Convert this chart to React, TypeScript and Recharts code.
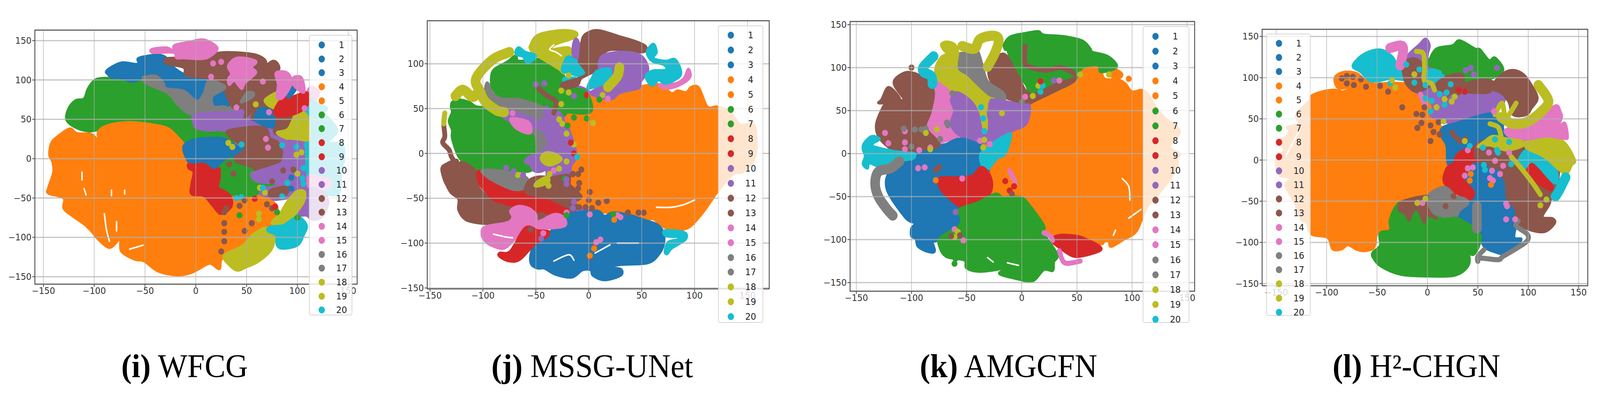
import { CartesianGrid, Legend, ReferenceArea, Scatter, ScatterChart, XAxis, YAxis } from "recharts";

type Pt = [number, number];
type Layer = [number, Pt[]];

// class number -> tab10 colour (0 is a white gap between clusters)
const classColors: Record<number, string> = {
  0: "#ffffff", 1: "#1f77b4", 2: "#1f77b4", 3: "#1f77b4", 4: "#ff7f0e", 5: "#ff7f0e", 6: "#2ca02c", 7: "#2ca02c",
  8: "#d62728", 9: "#d62728", 10: "#9467bd", 11: "#9467bd", 12: "#8c564b", 13: "#8c564b", 14: "#e377c2",
  15: "#e377c2", 16: "#7f7f7f", 17: "#7f7f7f", 18: "#bcbd22", 19: "#bcbd22", 20: "#17becf",
};
const legendLabels = ["1","2","3","4","5","6","7","8","9","10","11","12","13","14","15","16","17","18","19","20"];
const tickValues = [-150, -100, -50, 0, 50, 100, 150];
const jYTicks = [-150, -100, -50, 0, 50, 100];

// painted first, so they only show where the traced clusters leave a hole
const wfcgBase: Layer[] = [
  [10, [[30,60],[108,60],[108,-40],[30,-40]]],
];
const unetBase: Layer[] = [
  [10, [[-35,60],[6,60],[6,-58],[-35,-60]]],
  [12, [[-60,-40],[-15,-25],[-12,-62],[-55,-72]]],
];
const amgBase: Layer[] = [
  [4, [[-32,30],[5,42],[5,-55],[-32,-50]]],
  [10, [[-42,60],[-22,60],[-22,20],[-42,20]]],
  [1, [[-75,8],[-38,8],[-38,-25],[-75,-25]]],
];
const chgnBase: Layer[] = [
  [12, [[0,100],[65,95],[65,55],[0,50]]],
  [1, [[20,30],[80,30],[80,-30],[20,-30]]],
  [12, [[75,30],[125,30],[125,-42],[85,-42]]],
  [10, [[-10,90],[15,90],[15,55],[-10,55]]],
];

const wfcgAreas: Layer[] = [
  [6, [[-127,49],[-125,64],[-118,74],[-110,76],[-106,89],[-100,99],[-93,102],[-75,102],[-62,98],[-52,99],[-32,84],[-22,73],[-7,59],[0,56],[-2,43],[16,35],[33,31],[38,26],[30,10],[-10,10],[-90,20],[-92,36],[-105,35],[-117,39]]],
  [4, [[-144,5],[-142,20],[-135,29],[-124,38],[-117,32],[-103,31],[-96,23],[-96,34],[-87,42],[-66,46],[-42,43],[-27,38],[-17,26],[-10,15],[-8,0],[20,-30],[73,-53],[80,-70],[74,-85],[59,-95],[49,-105],[33,-121],[25,-128],[23,-140],[14,-133],[3,-140],[-5,-145],[-18,-148],[-37,-143],[-51,-130],[-60,-128],[-73,-118],[-75,-103],[-85,-113],[-97,-101],[-102,-93],[-110,-83],[-121,-73],[-130,-63],[-130,-50],[-145,-44],[-145,-37],[-140,-17],[-141,-4]]],
  [1, [[-88,111],[-82,117],[-72,122],[-57,120],[-57,127],[-49,130],[-37,132],[-29,128],[-22,116],[-9,106],[11,103],[8,89],[1,73],[-12,83],[-27,89],[-42,104],[-52,103],[-62,98],[-75,103],[-82,103],[-87,108]]],
  [1, [[17,79],[28,88],[36,74],[31,66],[21,64],[16,72]]],
  [12, [[-29,127],[-17,128],[11,128],[18,133],[28,135],[48,134],[61,131],[69,123],[64,113],[76,124],[82,116],[79,103],[80,83],[79,59],[81,50],[66,50],[55,50],[58,63],[48,53],[38,61],[28,88],[26,96],[13,99],[11,103],[-9,106],[-12,116],[-29,121]]],
  [16, [[-52,103],[-49,104],[-39,105],[-32,96],[-29,89],[-12,86],[1,73],[8,83],[13,99],[26,94],[28,89],[16,79],[18,66],[28,66],[37,61],[36,56],[-2,56],[-17,68],[-27,83],[-49,96]]],
  [10, [[0,56],[37,59],[46,61],[47,48],[66,44],[73,38],[77,26],[86,23],[70,20],[33,38],[16,36],[1,39],[-2,46]]],
  [1, [[-12,15],[-2,24],[16,26],[28,25],[41,15],[48,11],[35,0],[28,-2],[23,-12],[17,-15],[8,-7],[-2,-8],[-8,-2]]],
  [12, [[33,36],[66,40],[73,26],[81,20],[86,0],[80,-7],[56,-17],[39,-7],[37,0],[48,11],[41,21],[33,28]]],
  [6, [[35,0],[23,-12],[23,-27],[22,-37],[31,-45],[58,-46],[63,-35],[74,-33],[84,-29],[81,-22],[61,-29],[56,-15],[39,-7]]],
  [8, [[-7,-7],[-2,-8],[8,-7],[17,-15],[23,-13],[23,-27],[22,-37],[33,-46],[35,-60],[25,-70],[17,-60],[8,-47],[-4,-45],[-4,-32],[-2,-17],[-7,-12]]],
  [10, [[56,-19],[76,-10],[86,-2],[89,28],[101,23],[109,20],[111,0],[111,-35],[129,-53],[126,-63],[116,-77],[109,-72],[100,-71],[106,-57],[96,-40],[84,-32],[61,-29]]],
  [14, [[111,88],[115,91],[121,84],[118,76],[110,76]]],
  [20, [[110,69],[121,69],[129,64],[126,58],[133,48],[139,35],[131,21],[144,18],[146,0],[143,-14],[141,-43],[129,-45],[111,-35]]],
  [14, [[111,-22],[122,-24],[133,-28],[130,-37],[118,-40],[111,-36]]],
  [10, [[111,-39],[126,-44],[130,-57],[123,-75],[111,-73]]],
  [18, [[28,-123],[46,-111],[56,-97],[69,-88],[77,-98],[74,-116],[61,-131],[49,-138],[41,-142],[33,-135]]],
  [18, [[75,-82],[83,-70],[90,-55],[99,-42],[107,-42],[106,-55],[98,-70],[91,-82]]],
  [20, [[71,-92],[73,-87],[86,-85],[92,-80],[101,-74],[109,-85],[106,-97],[100,-110],[86,-114],[80,-110],[79,-97]]],
  [12, [[79,58],[96,58],[94,44],[90,35],[81,31],[77,36]]],
  [1, [[59,56],[64,64],[74,61],[77,56],[77,44],[74,40],[59,48]]],
  [18, [[80,33],[91,38],[99,59],[106,59],[111,48],[111,25],[101,25],[91,26],[89,26]]],
  [18, [[69,76],[81,84],[86,74],[82,63],[74,66],[69,71]]],
  [8, [[77,59],[86,78],[96,79],[109,84],[111,71],[101,59],[84,54]]],
  [14, [[-43,139],[-29,141],[-22,137],[-21,144],[-7,148],[8,151],[21,141],[15,131],[6,127],[-12,128],[-19,128],[-22,135],[-42,135]]],
  [14, [[41,128],[59,124],[55,116],[59,109],[48,96],[45,89],[38,99],[33,94],[32,101],[35,108],[32,118]]],
  [1, [[89,94],[99,91],[91,78]]],
  [14, [[79,109],[90,109],[94,96],[86,78],[80,78],[81,94]]],
  [14, [[96,103],[103,104],[106,96],[106,84],[96,94]]],
  [16, [[45,74],[51,84],[57,83],[55,78],[46,72]]],
  [12, [[74,-40],[90,-36],[88,-46],[74,-48]]],
];
const wfcgBands: Layer[] = [];
const wfcgThinBands: Layer[] = [
  [0, [[-112,-17],[-112,-27]]],
  [0, [[-110,-38],[-108,-46]]],
  [0, [[-83,-40],[-83,-47]]],
  [0, [[-70,-40],[-70,-45]]],
  [0, [[-90,-70],[-88,-90],[-85,-105]]],
  [0, [[-78,-80],[-78,-92]]],
  [0, [[-65,-115],[-52,-110]]],
];
const wfcgDots: Layer[] = [
  [14, [[17,121],[25,123],[15,104],[40,65],[66,98],[69,25],[71,14],[72,59],[107,64]]],
  [18, [[59,69],[32,20],[36,15],[99,5],[104,8],[68,-43],[63,-37],[100,-19],[62,-77],[62,-70]]],
  [20, [[45,18],[85,17],[99,15],[109,17],[40,-50],[45,-49],[85,-48],[66,-37],[90,-31],[106,-32],[105,-25],[106,-12]]],
  [12, [[28,-93],[28,-105],[25,-118],[48,-92],[55,-82],[28,-82],[28,-68],[30,-63],[43,-60],[48,-53],[70,-58],[75,-63],[33,-7],[37,-19],[75,-29],[86,-15],[96,-14]]],
  [8, [[58,-51],[78,-61]]],
  [6, [[43,-72],[80,-68],[100,-75]]],
  [1, [[94,-24],[94,-38]]],
  [10, [[56,-20]]],
];

const unetAreas: Layer[] = [
  [4, [[1,65],[5,67],[13,61],[30,68],[44,73],[66,77],[78,67],[84,70],[92,68],[97,74],[104,73],[112,52],[121,52],[133,47],[143,32],[155,33],[158,20],[157,-4],[146,-20],[136,-23],[122,-42],[116,-52],[107,-67],[95,-82],[83,-85],[71,-82],[61,-73],[54,-74],[39,-69],[22,-66],[8,-64],[-14,-50],[-14,-9],[-10,3],[-16,26],[-21,41],[-2,55]]],
  [6, [[-130,51],[-129,57],[-123,60],[-113,57],[-106,52],[-95,51],[-86,44],[-74,36],[-55,26],[-50,0],[-48,-12],[-57,-20],[-72,-19],[-98,-18],[-106,-20],[-118,-10],[-124,-1],[-129,17],[-129,26],[-132,36],[-129,46]]],
  [6, [[-92,86],[-89,94],[-77,102],[-69,109],[-66,103],[-48,105],[-38,100],[-26,90],[-23,84],[-23,73],[-4,70],[3,52],[-2,45],[-23,47],[-33,51],[-43,52],[-72,60],[-84,64],[-91,73]]],
  [16, [[-97,77],[-95,78],[-91,67],[-82,61],[-65,60],[-43,51],[-42,42],[-45,36],[-60,42],[-79,48],[-96,57],[-98,67]]],
  [16, [[-54,28],[-46,28],[-38,12],[-40,0],[-48,0],[-50,19]]],
  [10, [[-85,45],[-79,48],[-60,42],[-45,36],[-40,52],[-36,41],[-23,29],[-19,19],[-14,0],[-14,-9],[-23,-16],[-31,-12],[-45,-20],[-52,-19],[-55,-13],[-60,-9],[-55,-3],[-46,0],[-38,12],[-46,28],[-54,28],[-55,26],[-74,36]]],
  [14, [[-73,39],[-57,35],[-55,23],[-64,25],[-71,31]]],
  [18, [[-55,121],[-48,132],[-28,137],[-14,136],[-11,132],[-16,128],[-31,122],[-36,116],[-19,118],[-17,109],[-23,106],[-23,90],[-28,94],[-36,100],[-50,110],[-55,116]]],
  [20, [[-66,118],[-60,113],[-51,110],[-51,106],[-58,101],[-62,108],[-68,110],[-69,114]]],
  [20, [[-19,108],[-9,102],[-2,90],[-4,86],[-9,86],[-19,90],[-25,92],[-23,102]]],
  [20, [[-23,84],[-13,84],[-14,79],[-23,79]]],
  [10, [[-13,127],[-10,125],[-6,108],[-14,108],[-15,118]]],
  [12, [[0,135],[10,137],[30,130],[44,125],[54,119],[50,113],[25,116],[15,113],[10,103],[10,94],[3,90],[-7,84],[-11,76],[-23,73],[-25,78],[-9,84],[-2,90],[-9,102],[-8,108],[-6,128]]],
  [10, [[10,103],[15,110],[32,113],[49,109],[56,94],[49,80],[47,73],[30,68],[22,61],[13,62],[2,67],[8,74],[10,90]]],
  [20, [[8,92],[20,94],[18,81],[2,73],[-1,74],[3,84]]],
  [14, [[94,94],[96,86],[90,79],[78,73],[68,74],[68,77],[82,78],[90,84]]],
  [20, [[61,122],[64,113],[61,106],[73,103],[81,105],[86,96],[86,86],[73,78],[66,82],[62,77],[58,77],[54,86],[60,92],[73,93],[71,99],[60,103],[55,113]]],
  [12, [[-139,-17],[-135,-12],[-124,-8],[-128,-28],[-121,-10],[-105,-22],[-104,-38],[-90,-52],[-72,-58],[-57,-60],[-50,-65],[-72,-76],[-87,-78],[-101,-78],[-116,-74],[-123,-63],[-123,-51],[-130,-44],[-134,-36],[-137,-28]]],
  [8, [[-105,-22],[-101,-20],[-94,-29],[-72,-39],[-62,-41],[-38,-50],[-21,-58],[-23,-66],[-36,-67],[-52,-63],[-72,-58],[-89,-52],[-96,-44],[-103,-34]]],
  [16, [[-101,-19],[-87,-19],[-72,-22],[-58,-28],[-62,-39],[-72,-40],[-86,-33],[-96,-26]]],
  [12, [[-60,-39],[-55,-29],[-43,-26],[-24,-31],[-9,-45],[-8,-50],[-16,-55],[-19,-60],[-28,-55],[-38,-50],[-57,-45]]],
  [18, [[-45,-4],[-40,1],[-31,-1],[-26,-7],[-36,-13],[-43,-10]]],
  [18, [[-48,-31],[-39,-26],[-38,-32],[-46,-36],[-51,-36]]],
  [1, [[-44,-96],[-33,-84],[-21,-76],[-19,-68],[7,-64],[15,-70],[23,-66],[39,-69],[54,-75],[64,-79],[70,-87],[71,-99],[67,-111],[56,-122],[30,-124],[18,-127],[30,-129],[30,-136],[15,-141],[4,-136],[2,-130],[-6,-130],[-16,-138],[-31,-135],[-42,-128],[-48,-128],[-54,-124],[-55,-114],[-51,-101]]],
  [14, [[-101,-90],[-98,-82],[-77,-77],[-72,-71],[-74,-64],[-67,-59],[-57,-61],[-50,-68],[-48,-76],[-33,-68],[-24,-71],[-22,-80],[-33,-83],[-48,-83],[-60,-82],[-72,-98],[-81,-106],[-93,-102],[-99,-96]]],
  [8, [[-84,-111],[-74,-109],[-60,-83],[-48,-86],[-38,-87],[-40,-93],[-51,-101],[-65,-118],[-75,-120],[-84,-115]]],
  [20, [[72,-86],[90,-88],[92,-95],[85,-101],[78,-106],[74,-112],[72,-109],[75,-99],[84,-96],[85,-93],[73,-92]]],
];
const unetBands: Layer[] = [
  [18, [[-75,113],[-89,106],[-101,93],[-107,81],[-103,70],[-98,58],[-87,48],[-80,46]]],
  [18, [[-126,64],[-119,71],[-110,63],[-105,68]]],
  [18, [[29,96],[27,86],[18,74]]],
];
const unetThinBands: Layer[] = [
  [12, [[-136,45],[-137,33],[-136,19],[-138,12],[-132,4],[-130,-3],[-127,-9]]],
  [18, [[-136,45],[-137,33]]],
  [12, [[-49,74],[-39,64],[-31,58],[-33,45]]],
  [0, [[64,-60],[78,-60],[90,-57],[100,-52]]],
  [0, [[-33,121],[-37,116],[-31,113],[-26,109]]],
  [0, [[20,-102],[6,-111]]],
  [0, [[-33,-120],[-19,-113],[-14,-119]]],
  [0, [[27,-100],[47,-100]]],
  [0, [[-90,-90],[-79,-93],[-72,-94]]],
];
const unetDots: Layer[] = [
  [12, [[-7,-18],[-15,-23],[-10,-23],[-9,-33],[-10,-39],[1,-43],[0,-52],[9,-55],[17,-53],[-9,-60],[-3,-60],[3,-61],[37,-66],[47,-66],[52,-66],[-44,-69],[-55,-85],[1,-116],[6,-101]]],
  [14, [[-33,-19],[-21,-66],[1,-68],[27,-69],[30,-71],[-43,-89],[7,-99],[11,-96],[18,61],[-72,45]]],
  [18, [[-26,70],[-19,68],[13,65],[-26,55],[-28,38],[-25,33],[-21,22],[-14,10],[4,34],[-81,47],[-19,87],[-67,-24],[-28,-17],[-21,-9],[-37,-23],[-38,-36]]],
  [6, [[-14,40],[-2,39],[-6,47],[-20,31],[-16,60],[-23,45],[10,60],[-23,-28],[-21,-69],[23,-68]]],
  [10, [[-50,77],[-42,78],[-14,64],[-40,49],[-78,-16],[-71,-20],[-62,-24],[-21,-29],[-21,-34],[-14,-54],[-15,-61],[-45,-95]]],
  [8, [[-2,65],[-17,12],[-14,0]]],
  [4, [[24,-74],[5,-106],[1,-114]]],
  [20, [[-11,-4]]],
];

const amgAreas: Layer[] = [
  [4, [[8,57],[32,72],[49,86],[53,94],[58,100],[70,100],[75,87],[87,86],[94,81],[100,72],[111,73],[120,57],[129,42],[143,26],[134,8],[143,0],[141,-5],[141,-14],[134,-30],[125,-45],[113,-63],[104,-90],[92,-100],[81,-108],[79,-102],[75,-102],[71,-105],[55,-95],[32,-95],[20,-90],[19,-77],[8,-60],[-1,-54],[-29,-48],[-30,-20],[-22,-3],[-15,0],[-8,27],[1,35],[6,53]]],
  [4, [[78,94],[84,98],[91,92],[86,87]]],
  [6, [[-16,127],[-10,136],[4,140],[15,142],[20,138],[39,136],[55,131],[62,122],[64,118],[78,113],[86,101],[72,95],[69,103],[55,100],[49,87],[39,78],[27,74],[9,65],[4,80],[-6,95],[-10,107],[-13,121],[-15,121]]],
  [12, [[-27,107],[-17,116],[-10,106],[-3,89],[8,69],[32,81],[46,87],[49,89],[46,83],[32,74],[8,59],[6,56],[-8,62],[-20,69],[-29,87],[-30,100]]],
  [16, [[-58,115],[-52,117],[-46,118],[-40,119],[-36,104],[-31,84],[-17,71],[-16,62],[-24,62],[-38,74],[-46,84],[-57,96],[-59,104]]],
  [18, [[-78,100],[-73,112],[-68,116],[-71,121],[-73,127],[-68,130],[-61,127],[-58,118],[-59,98],[-50,89],[-43,80],[-31,66],[-25,63],[-29,59],[-33,47],[-30,27],[-36,26],[-40,48],[-47,62],[-57,71],[-71,78],[-77,87]]],
  [14, [[-79,84],[-71,78],[-64,69],[-61,50],[-64,33],[-57,21],[-71,14],[-78,12],[-87,30],[-82,53],[-80,72]]],
  [12, [[-127,51],[-122,59],[-110,62],[-106,62],[-116,82],[-108,93],[-99,94],[-87,86],[-80,72],[-83,48],[-87,30],[-75,12],[-78,0],[-80,-3],[-93,-5],[-108,1],[-118,5],[-129,18],[-132,33]]],
  [12, [[-130,59],[-127,63],[-121,77],[-112,67],[-112,61],[-125,59]]],
  [10, [[-64,62],[-59,71],[-47,62],[-40,48],[-36,26],[-30,26],[-29,59],[-22,62],[-1,57],[7,55],[4,35],[-8,27],[-15,21],[-27,12],[-52,18],[-64,33],[-61,50]]],
  [1, [[-76,5],[-57,17],[-40,11],[-36,6],[-36,-17],[-30,-20],[-38,-15],[-47,-26],[-75,-28],[-75,-38],[-61,-60],[-57,-65],[-57,-80],[-61,-87],[-71,-96],[-79,-102],[-83,-96],[-79,-113],[-85,-114],[-94,-108],[-96,-99],[-100,-96],[-100,-87],[-97,-81],[-105,-75],[-120,-48],[-123,-32],[-119,-20],[-110,-9],[-105,-3],[-96,1],[-80,3]]],
  [20, [[-143,12],[-136,20],[-129,17],[-135,12],[-134,8],[-117,3],[-105,1],[-97,0],[-99,-6],[-110,-8],[-117,-12],[-129,-15],[-138,-11],[-140,-17],[-144,-12],[-142,-3],[-144,5]]],
  [20, [[-36,2],[-15,21],[-10,21],[-15,0],[-22,-5],[-28,-14],[-31,-18],[-36,-14]]],
  [8, [[-37,-16],[-30,-23],[-27,-36],[-30,-48],[-40,-57],[-52,-63],[-61,-57],[-73,-42],[-75,-29],[-59,-28],[-45,-26]]],
  [6, [[-57,-65],[-40,-57],[-24,-47],[-17,-51],[-1,-51],[8,-62],[20,-84],[20,-93],[32,-117],[29,-126],[28,-136],[20,-135],[10,-148],[-3,-146],[-20,-140],[-15,-134],[-15,-126],[-17,-133],[-38,-137],[-50,-133],[-52,-124],[-68,-120],[-74,-110],[-74,-98],[-57,-84],[-55,-75]]],
  [8, [[27,-101],[34,-95],[50,-96],[57,-99],[67,-105],[72,-110],[69,-114],[55,-119],[46,-119],[36,-111]]],
];
const amgBands: Layer[] = [
  [18, [[-54,125],[-43,122],[-38,133],[-27,137],[-21,133],[-24,118],[-31,101]]],
  [20, [[-80,113],[-89,101],[-89,95],[-82,90],[-81,81]]],
  [16, [[-111,-9],[-119,-17],[-130,-21],[-133,-35],[-130,-50],[-122,-65],[-117,-72]]],
];
const amgThinBands: Layer[] = [
  [12, [[3,125],[3,105],[9,100],[15,98],[23,97],[35,100],[44,96],[47,93]]],
  [14, [[20,-92],[26,-96],[28,-101]]],
  [14, [[34,-113],[39,-127],[53,-125]]],
  [14, [[-11,-20],[-6,-33]]],
  [0, [[91,-29],[97,-38],[98,-54]]],
  [0, [[97,-75],[108,-65]]],
  [0, [[83,-95],[85,-89]]],
  [0, [[-13,-127],[-3,-130]]],
  [0, [[-31,-121],[-26,-126]]],
];
const amgDots: Layer[] = [
  [14, [[-124,24],[-121,12],[-106,26],[-106,13],[-106,5],[-93,4],[-83,7],[-38,15],[-29,11],[3,66],[34,85],[-94,-17],[-88,-16],[-54,-29],[-61,-88],[-53,-101]]],
  [16, [[-107,29],[-97,28],[-91,28],[-87,29],[-100,8],[-63,70],[-67,33],[-68,36],[-74,17],[0,60]]],
  [18, [[-87,24],[-77,28],[-83,5],[-34,16],[-35,7],[10,67],[15,79],[-18,47],[53,92],[79,92],[-58,-91],[-61,-97]]],
  [20, [[-37,54],[-35,41],[-34,26],[17,72],[19,79]]],
  [8, [[17,84],[-15,-32],[-11,-43],[-7,-38]]],
  [10, [[29,85],[-60,-68]]],
  [12, [[-100,100],[-78,-19],[-75,-16],[-64,-96],[-56,-95],[-9,-47]]],
  [4, [[-78,-31],[97,87]]],
  [6, [[-61,-128],[-60,-122]]],
];

const chgnAreas: Layer[] = [
  [4, [[-116,77],[-107,82],[-94,85],[-87,84],[-84,83],[-61,91],[-24,93],[-11,86],[2,67],[4,55],[14,39],[19,18],[21,0],[21,-6],[17,-29],[14,-32],[2,-40],[-16,-47],[-27,-52],[-36,-71],[-39,-85],[-48,-88],[-51,-93],[-53,-106],[-61,-110],[-69,-109],[-79,-103],[-85,-108],[-94,-108],[-99,-94],[-115,-90],[-120,-75],[-125,-72],[-131,-53],[-140,-33],[-140,-28],[-135,-23],[-140,-20],[-147,-18],[-150,-1],[-142,12],[-147,23],[-140,28],[-137,36],[-139,40],[-127,44],[-130,55],[-117,72]]],
  [4, [[-92,99],[-87,105],[-80,107],[-70,105],[-62,97],[-55,93],[-80,88],[-89,88]]],
  [20, [[-74,114],[-66,126],[-54,133],[-44,133],[-34,124],[-30,113],[-22,104],[-18,97],[-36,99],[-49,96],[-58,97],[-66,107]]],
  [10, [[-2,147],[2,139],[0,123],[9,99],[-3,83],[-8,80],[-18,93],[-24,107],[-24,118],[-18,129],[-8,140]]],
  [12, [[-24,118],[-13,123],[-5,115],[-8,99],[2,91],[-11,83],[-21,93],[-24,107]]],
  [20, [[0,108],[9,109],[16,104],[12,96],[2,97]]],
  [6, [[2,121],[9,135],[25,139],[32,145],[47,135],[52,134],[61,121],[67,124],[75,110],[67,101],[62,99],[55,94],[40,93],[30,105],[17,105],[14,110],[2,115]]],
  [12, [[66,93],[75,105],[85,109],[95,104],[103,91],[109,75],[103,63],[98,55],[85,55],[80,72],[68,83]]],
  [10, [[30,83],[62,83],[76,72],[62,56],[37,48],[27,44],[17,47],[3,55],[17,67]]],
  [12, [[12,96],[27,104],[35,103],[37,93],[47,96],[62,96],[62,83],[45,82],[35,83],[30,80],[17,83],[9,88]]],
  [1, [[16,40],[27,44],[37,48],[60,56],[73,52],[75,37],[78,26],[50,20],[50,0],[48,-18],[78,-28],[79,-42],[88,-61],[88,-77],[86,-94],[93,-96],[88,-104],[75,-113],[68,-112],[57,-106],[52,-94],[49,-85],[30,-67],[40,-53],[35,-45],[46,-45],[45,-33],[35,-18],[21,-6],[19,18],[13,31]]],
  [8, [[17,-17],[23,-6],[42,-2],[37,-17],[35,-23],[42,-33],[46,-40],[42,-47],[27,-39],[17,-28]]],
  [8, [[30,7],[42,15],[49,13],[50,0],[42,-2],[28,-3]]],
  [12, [[73,-10],[90,-2],[100,-15],[110,-28],[122,-39],[121,-53],[114,-69],[124,-71],[126,-77],[116,-87],[100,-84],[88,-74],[88,-61],[79,-45],[78,-28]]],
  [12, [[50,20],[78,26],[98,17],[90,-2],[73,-10],[50,0]]],
  [8, [[104,-2],[116,-15],[124,-34],[122,-36],[110,-28],[100,-15],[100,-9]]],
  [20, [[95,9],[105,15],[118,0],[128,-13],[126,-28],[105,-2],[95,-12],[90,-4]]],
  [18, [[100,25],[123,26],[136,21],[146,0],[143,-6],[138,-17],[131,-12],[121,-1],[113,6],[98,15]]],
  [14, [[78,37],[93,44],[110,51],[127,66],[132,58],[133,51],[128,37],[136,45],[139,29],[136,26],[118,29],[98,25],[83,28],[78,32]]],
  [16, [[17,-33],[24,-39],[27,-44],[37,-47],[40,-53],[32,-61],[28,-69],[17,-72],[4,-66],[-1,-55],[0,-45],[7,-37]]],
  [6, [[-29,-53],[-37,-72],[-37,-85],[-47,-89],[-47,-104],[-54,-112],[-54,-118],[-46,-129],[-26,-139],[2,-141],[27,-140],[40,-129],[41,-115],[35,-104],[45,-115],[52,-100],[50,-87],[30,-71],[17,-72],[2,-66],[-11,-61],[-16,-50]]],
  [12, [[-27,-52],[-16,-47],[-3,-44],[0,-45],[-1,-55],[4,-66],[9,-71],[-1,-67],[-3,-76],[-7,-66],[-11,-59],[-16,-66],[-18,-73],[-21,-67],[-23,-64],[-28,-61]]],
  [18, [[50,16],[57,23],[65,29],[78,26],[93,23],[94,17],[78,12],[62,18]]],
];
const chgnBands: Layer[] = [
  [14, [[-37,136],[-27,139],[-24,134],[-27,115]]],
  [20, [[137,-21],[131,-36],[127,-44]]],
  [18, [[110,91],[120,72],[113,59],[100,47],[85,44],[73,52]]],
  [16, [[49,-56],[49,-69],[49,-83]]],
];
const chgnThinBands: Layer[] = [
  [16, [[90,-74],[88,-80],[99,-90],[99,-98],[90,-106],[75,-117],[70,-121],[52,-119],[50,-123],[50,-117],[56,-109]]],
  [18, [[83,4],[93,-10],[105,-29],[112,-42]]],
  [18, [[-11,132],[-4,129],[-3,112],[-3,96],[4,93],[7,85]]],
  [18, [[62,44],[70,40],[73,29]]],
  [18, [[67,55],[74,69],[78,52],[88,69]]],
  [14, [[-7,80],[-2,66]]],
  [12, [[24,34],[32,23],[38,26]]],
  [0, [[-140,6],[-127,36]]],
];
const chgnDots: Layer[] = [
  [12, [[-85,99],[-80,102],[-74,101],[-66,98],[-80,93],[-73,91],[-61,89],[-47,90],[-39,83],[-25,64],[-11,56],[-5,55],[-6,45],[-10,39],[3,42],[11,46],[6,34],[3,23],[12,31],[-3,64],[18,-56],[26,-44],[89,56],[98,61]]],
  [10, [[69,112],[38,109],[43,112],[46,104]]],
  [14, [[45,-9],[40,-10],[37,-19],[64,-13],[62,-22],[65,-25],[72,-17],[78,-53],[79,-56],[78,-72],[87,-72],[75,-7],[67,-1],[61,9],[81,9],[40,12],[-5,-52],[66,59]]],
  [4, [[43,-17],[42,-25],[63,-30]]],
  [20, [[56,-6],[57,-12],[83,-5],[70,9],[-2,91],[-21,116],[-8,110],[-13,94],[-37,93],[-2,75],[4,72],[12,80],[19,82],[17,67],[3,59],[23,92],[42,17],[55,15],[67,25],[81,22],[69,12]]],
  [18, [[118,-48],[112,-55],[-2,-47],[-10,-52],[-13,104],[-35,97],[-32,88],[17,74],[27,77],[24,71],[9,64],[37,23],[16,47]]],
  [8, [[37,83],[31,85]]],
];

const panels = [
  { left: 94, right: 963, top: 77, bottom: 727, x: [-158.4, 158.8], y: [-159.5, 163.4], yTicks: tickValues, legend: [833, 89, 117, 718, 113, 35.7], areas: [...wfcgBase, ...wfcgAreas], bands: wfcgBands, thin: wfcgThinBands, dots: wfcgDots },
  { left: 1152, right: 2074, top: 53, bottom: 739, x: [-152.6, 170.5], y: [-151, 148], yTicks: jYTicks, legend: [1936, 65, 122, 761, 88, 37.9], areas: [...unetBase, ...unetAreas], bands: unetBands, thin: unetThinBands, dots: unetDots },
  { left: 2292, right: 3221, top: 55, bottom: 745, x: [-155.7, 156.7], y: [-160, 153.6], yTicks: tickValues, legend: [3081, 67, 126, 759, 91, 38.1], areas: [...amgBase, ...amgAreas], bands: amgBands, thin: amgThinBands, dots: amgDots },
  { left: 3403, right: 4281, top: 75, bottom: 731, x: [-164, 159], y: [-152.6, 158.7], yTicks: tickValues, legend: [3414, 86, 120, 722, 109, 36.2], areas: [...chgnBase, ...chgnAreas], bands: chgnBands, thin: chgnThinBands, dots: chgnDots },
];

const captions = [
  { left: 327, bold: "(i)", name: "WFCG" },
  { left: 1325, bold: "(j)", name: "MSSG-UNet" },
  { left: 2480, bold: "(k)", name: "AMGCFN" },
  { left: 3593, bold: "(l)", name: "H²-CHGN" },
];

const CHART_H = 860;
const Y_W = 100;
const X_H = 60;
const tickFont = { fontSize: 23, fontFamily: "DejaVu Sans", fill: "#333" };
const minus = (v: number) => String(v).replace("-", "\u2212");
const toPoints = (pts: Pt[]) => pts.map(([x, y]) => ({ x, y }));
const noDot = () => <g />;

// Catmull-Rom through the traced points, passed to the Curve as a custom curve type
const smoothCurve = (closed: boolean) => (ctx: any) => {
  let pts: number[][] = [];
  return {
    areaStart() {},
    areaEnd() {},
    lineStart() { pts = []; },
    point(x: number, y: number) { pts.push([x, y]); },
    lineEnd() {
      const n = pts.length;
      if (!n) return;
      const at = (i: number) => (closed ? pts[(i + n) % n] : pts[Math.max(0, Math.min(n - 1, i))]);
      ctx.moveTo(pts[0][0], pts[0][1]);
      const last = closed ? n : n - 1;
      for (let i = 0; i < last; i++) {
        const [p0, p1, p2, p3] = [at(i - 1), at(i), at(i + 1), at(i + 2)];
        ctx.bezierCurveTo(
          p1[0] + (p2[0] - p0[0]) / 6, p1[1] + (p2[1] - p0[1]) / 6,
          p2[0] - (p3[0] - p1[0]) / 6, p2[1] - (p3[1] - p1[1]) / 6,
          p2[0], p2[1],
        );
      }
      if (closed) ctx.closePath();
    },
  };
};
const closedCurve = smoothCurve(true);
const openCurve = smoothCurve(false);

function MatplotlibLegend({ spec }: { spec: number[] }) {
  const [, top, , , first, step] = spec;
  const rowTop = first - top;
  return (
    <div style={{ position: "relative", width: "100%", height: "100%" }}>
      {legendLabels.map((label, i) => (
        <div key={label}>
          <span style={{ position: "absolute", left: 24, top: rowTop + i * step - 9, width: 17, height: 18, borderRadius: "50%", background: classColors[i + 1] }} />
          <span style={{ position: "absolute", left: 64, width: 44, textAlign: "center", top: rowTop + i * step - 15, font: "23px/30px 'DejaVu Sans'", color: "#222" }}>{label}</span>
        </div>
      ))}
    </div>
  );
}

function Panel({ p }: { p: (typeof panels)[number] }) {
  const chartLeft = p.left - Y_W;
  const width = p.right - chartLeft + 30;
  const [lx, ly, lw, lh] = p.legend;
  return (
    <div style={{ position: "absolute", left: chartLeft, top: 0 }}>
      <ScatterChart
        width={width}
        height={CHART_H}
        margin={{ top: p.top, right: 30, left: 0, bottom: CHART_H - p.bottom - X_H }}
      >
        <XAxis
          type="number"
          dataKey="x"
          domain={p.x}
          ticks={tickValues}
          height={X_H}
          allowDataOverflow
          interval={0}
          tickFormatter={minus}
          tick={tickFont}
          tickSize={7}
          axisLine={false}
          tickLine={{ stroke: "#444", strokeWidth: 2 }}
        />
        <YAxis
          type="number"
          dataKey="y"
          domain={p.y}
          ticks={p.yTicks}
          width={Y_W}
          allowDataOverflow
          interval={0}
          tickFormatter={minus}
          tick={tickFont}
          tickSize={7}
          axisLine={false}
          tickLine={{ stroke: "#444", strokeWidth: 2 }}
        />
        {p.areas.map(([c, pts], i) => (
          <Scatter
            key={`a${i}`}
            data={toPoints(pts)}
            fill={classColors[c]}
            shape={noDot}
            line={{ fill: classColors[c], stroke: classColors[c], strokeWidth: 7, strokeLinejoin: "round" }}
            lineJointType={closedCurve as any}
            isAnimationActive={false}
          />
        ))}
        {p.bands.map(([c, pts], i) => (
          <Scatter
            key={`b${i}`}
            data={toPoints(pts)}
            fill={classColors[c]}
            shape={noDot}
            line={{ stroke: classColors[c], strokeWidth: 26, strokeLinejoin: "round", strokeLinecap: "round" }}
            lineJointType={openCurve as any}
            isAnimationActive={false}
          />
        ))}
        {p.thin.map(([c, pts], i) => (
          <Scatter
            key={`t${i}`}
            data={toPoints(pts)}
            fill={classColors[c]}
            shape={noDot}
            line={{ stroke: classColors[c], strokeWidth: c === 0 ? 4 : 13, strokeLinejoin: "round", strokeLinecap: "round" }}
            lineJointType={openCurve as any}
            isAnimationActive={false}
          />
        ))}
        {p.dots.map(([c, pts], i) => (
          <Scatter
            key={`d${i}`}
            data={toPoints(pts)}
            fill={classColors[c]}
            shape={(s: any) => <circle cx={s.cx} cy={s.cy} r={8} fill={classColors[c]} />}
            isAnimationActive={false}
          />
        ))}
        <CartesianGrid vertical={false} stroke="#b0b0b0" strokeOpacity={0.75} strokeWidth={3} zIndex={600} />
        <CartesianGrid horizontal={false} stroke="#b0b0b0" strokeOpacity={0.85} strokeWidth={1.6} zIndex={600} />
        <ReferenceArea
          x1={p.x[0]}
          x2={p.x[1]}
          y1={p.y[0]}
          y2={p.y[1]}
          fill="none"
          stroke="#555"
          strokeWidth={2.5}
          ifOverflow="visible"
          zIndex={650}
        />
        <Legend
          layout="vertical"
          align="center"
          verticalAlign="middle"
          wrapperStyle={{
            left: lx - chartLeft,
            top: ly,
            width: lw,
            height: lh,
            background: "rgba(255,255,255,0.8)",
            border: "2px solid rgba(204,204,204,0.8)",
            borderRadius: 6,
            boxSizing: "border-box",
          }}
          content={() => <MatplotlibLegend spec={p.legend} />}
        />
      </ScatterChart>
    </div>
  );
}

export default function App() {
  // the sandbox window is narrower than the reference, so squeeze the 4314px layout into it
  const fit = Math.min(1, window.innerWidth / 4314);
  return (
    <div
      style={{
        position: "absolute",
        left: 0,
        top: 0,
        width: 4314,
        height: 1008,
        background: "#fff",
        overflow: "hidden",
        transform: `scaleX(${fit})`,
        transformOrigin: "left top",
      }}
    >
      {panels.map((p) => (
        <Panel key={p.left} p={p} />
      ))}
      {captions.map((c) => (
        <div
          key={c.left}
          style={{ position: "absolute", left: c.left, top: 892, whiteSpace: "nowrap", font: "84px/90px 'Liberation Serif'", color: "#000" }}
        >
          <b>{c.bold}</b> {c.name}
        </div>
      ))}
    </div>
  );
}
